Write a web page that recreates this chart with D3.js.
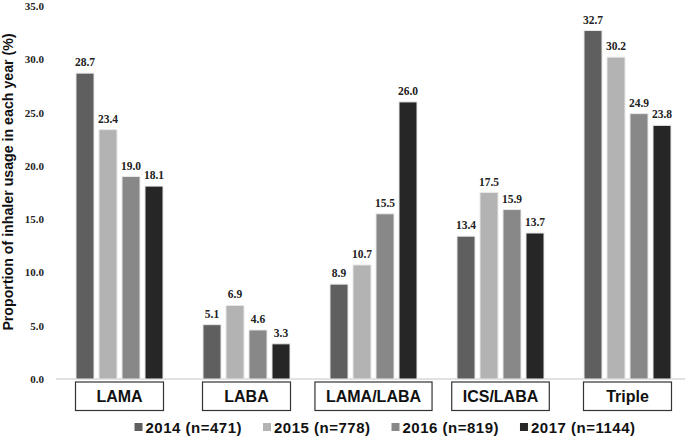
<!DOCTYPE html>
<html><head><meta charset="utf-8">
<script src="https://cdn.jsdelivr.net/npm/d3@7"></script>
<style>body{margin:0;background:#fff}svg{display:block}</style>
</head><body><svg id="c" width="685" height="436"></svg>
<script>
const categories = ["LAMA", "LABA", "LAMA/LABA", "ICS/LABA", "Triple"];
const seriesNames = ["2014 (n=471)", "2015 (n=778)", "2016 (n=819)", "2017 (n=1144)"];
const v2014 = [28.7, 5.1, 8.9, 13.4, 32.7];
const v2015 = [23.4, 6.9, 10.7, 17.5, 30.2];
const v2016 = [19.0, 4.6, 15.5, 15.9, 24.9];
const v2017 = [18.1, 3.3, 26.0, 13.7, 23.8];
const yTicks = [0, 5, 10, 15, 20, 25, 30, 35];
const colors = ["#5f5f5f", "#b3b3b3", "#888888", "#262626"];
const yTitle = "Proportion of inhaler usage in each year (%)";

const series = [v2014, v2015, v2016, v2017];
const svg = d3.select("#c");

const y = d3.scaleLinear().domain([0, 35]).range([379, 6]);
const x0 = d3.scaleBand().domain(categories).range([56, 691]).paddingInner(0.315).paddingOuter(0.1575);
const x1 = d3.scaleBand().domain(d3.range(series.length)).range([0, x0.bandwidth()]).paddingInner(5/23).paddingOuter(0);

// y axis labels
const yAxis = d3.axisLeft(y).tickValues(yTicks).tickFormat(d3.format(".1f")).tickSize(0).tickPadding(0);
const ga = svg.append("g").attr("transform", "translate(44,0)").call(yAxis);
ga.select(".domain").remove();
ga.selectAll("text").attr("font-family", "Liberation Serif").attr("font-weight", "bold")
  .attr("font-size", 11).attr("fill", "#222");

// baseline
svg.append("line").attr("x1", 56).attr("x2", 685).attr("y1", y(0)).attr("y2", y(0))
  .attr("stroke", "#d9d9d9").attr("stroke-width", 1.5);

// bars
const groups = svg.append("g").selectAll("g").data(categories).join("g")
  .attr("transform", d => `translate(${x0(d)},0)`);
groups.each(function(cat, ci) {
  const g = d3.select(this);
  series.forEach((s, si) => {
    g.append("rect").attr("x", x1(si)).attr("width", x1.bandwidth())
      .attr("y", y(s[ci])).attr("height", y(0) - y(s[ci]))
      .attr("fill", colors[si]).attr("stroke", "#e8e8e8").attr("stroke-width", 1);
    g.append("text").attr("x", x1(si) + x1.bandwidth() / 2).attr("y", y(s[ci]) - 7)
      .attr("text-anchor", "middle").attr("font-family", "Liberation Serif")
      .attr("font-weight", "bold").attr("font-size", 11.5).attr("fill", "#222")
      .text(d3.format(".1f")(s[ci]));
  });
});

// category boxes
categories.forEach(cat => {
  const cx = x0(cat) + x0.bandwidth() / 2;
  const bg = svg.append("g");
  const r = bg.append("rect");
  const t = bg.append("text").attr("x", cx).attr("y", 402).attr("text-anchor", "middle")
    .attr("font-family", "Liberation Sans").attr("font-weight", "bold").attr("font-size", 16)
    .attr("fill", "#111").text(cat);
  const tw = t.node().getComputedTextLength();
  const w = Math.max(88, tw + 22);
  r.attr("x", cx - w / 2).attr("y", 382).attr("width", w).attr("height", 28.5)
    .attr("fill", "#fff").attr("stroke", "#333").attr("stroke-width", 1.2);
});

// y title
svg.append("text").attr("transform", "translate(13,182) rotate(-90)").attr("text-anchor", "middle")
  .attr("font-family", "Liberation Sans").attr("font-weight", "bold").attr("font-size", 14.2)
  .attr("fill", "#111").text(yTitle);

// legend
const lg = svg.append("g");
let lx = 0;
seriesNames.forEach((n, i) => {
  lg.append("rect").attr("x", lx).attr("y", 423).attr("width", 8).attr("height", 8).attr("fill", colors[i]);
  const t = lg.append("text").attr("x", lx + 11).attr("y", 433)
    .attr("font-family", "Liberation Sans").attr("font-weight", "bold").attr("font-size", 15)
    .attr("letter-spacing", 0.5).attr("fill", "#111").text(n);
  lx += 11 + t.node().getComputedTextLength() + 21;
});
lx -= 21;
lg.attr("transform", `translate(${385 - lx / 2},0)`);
</script></body></html>
